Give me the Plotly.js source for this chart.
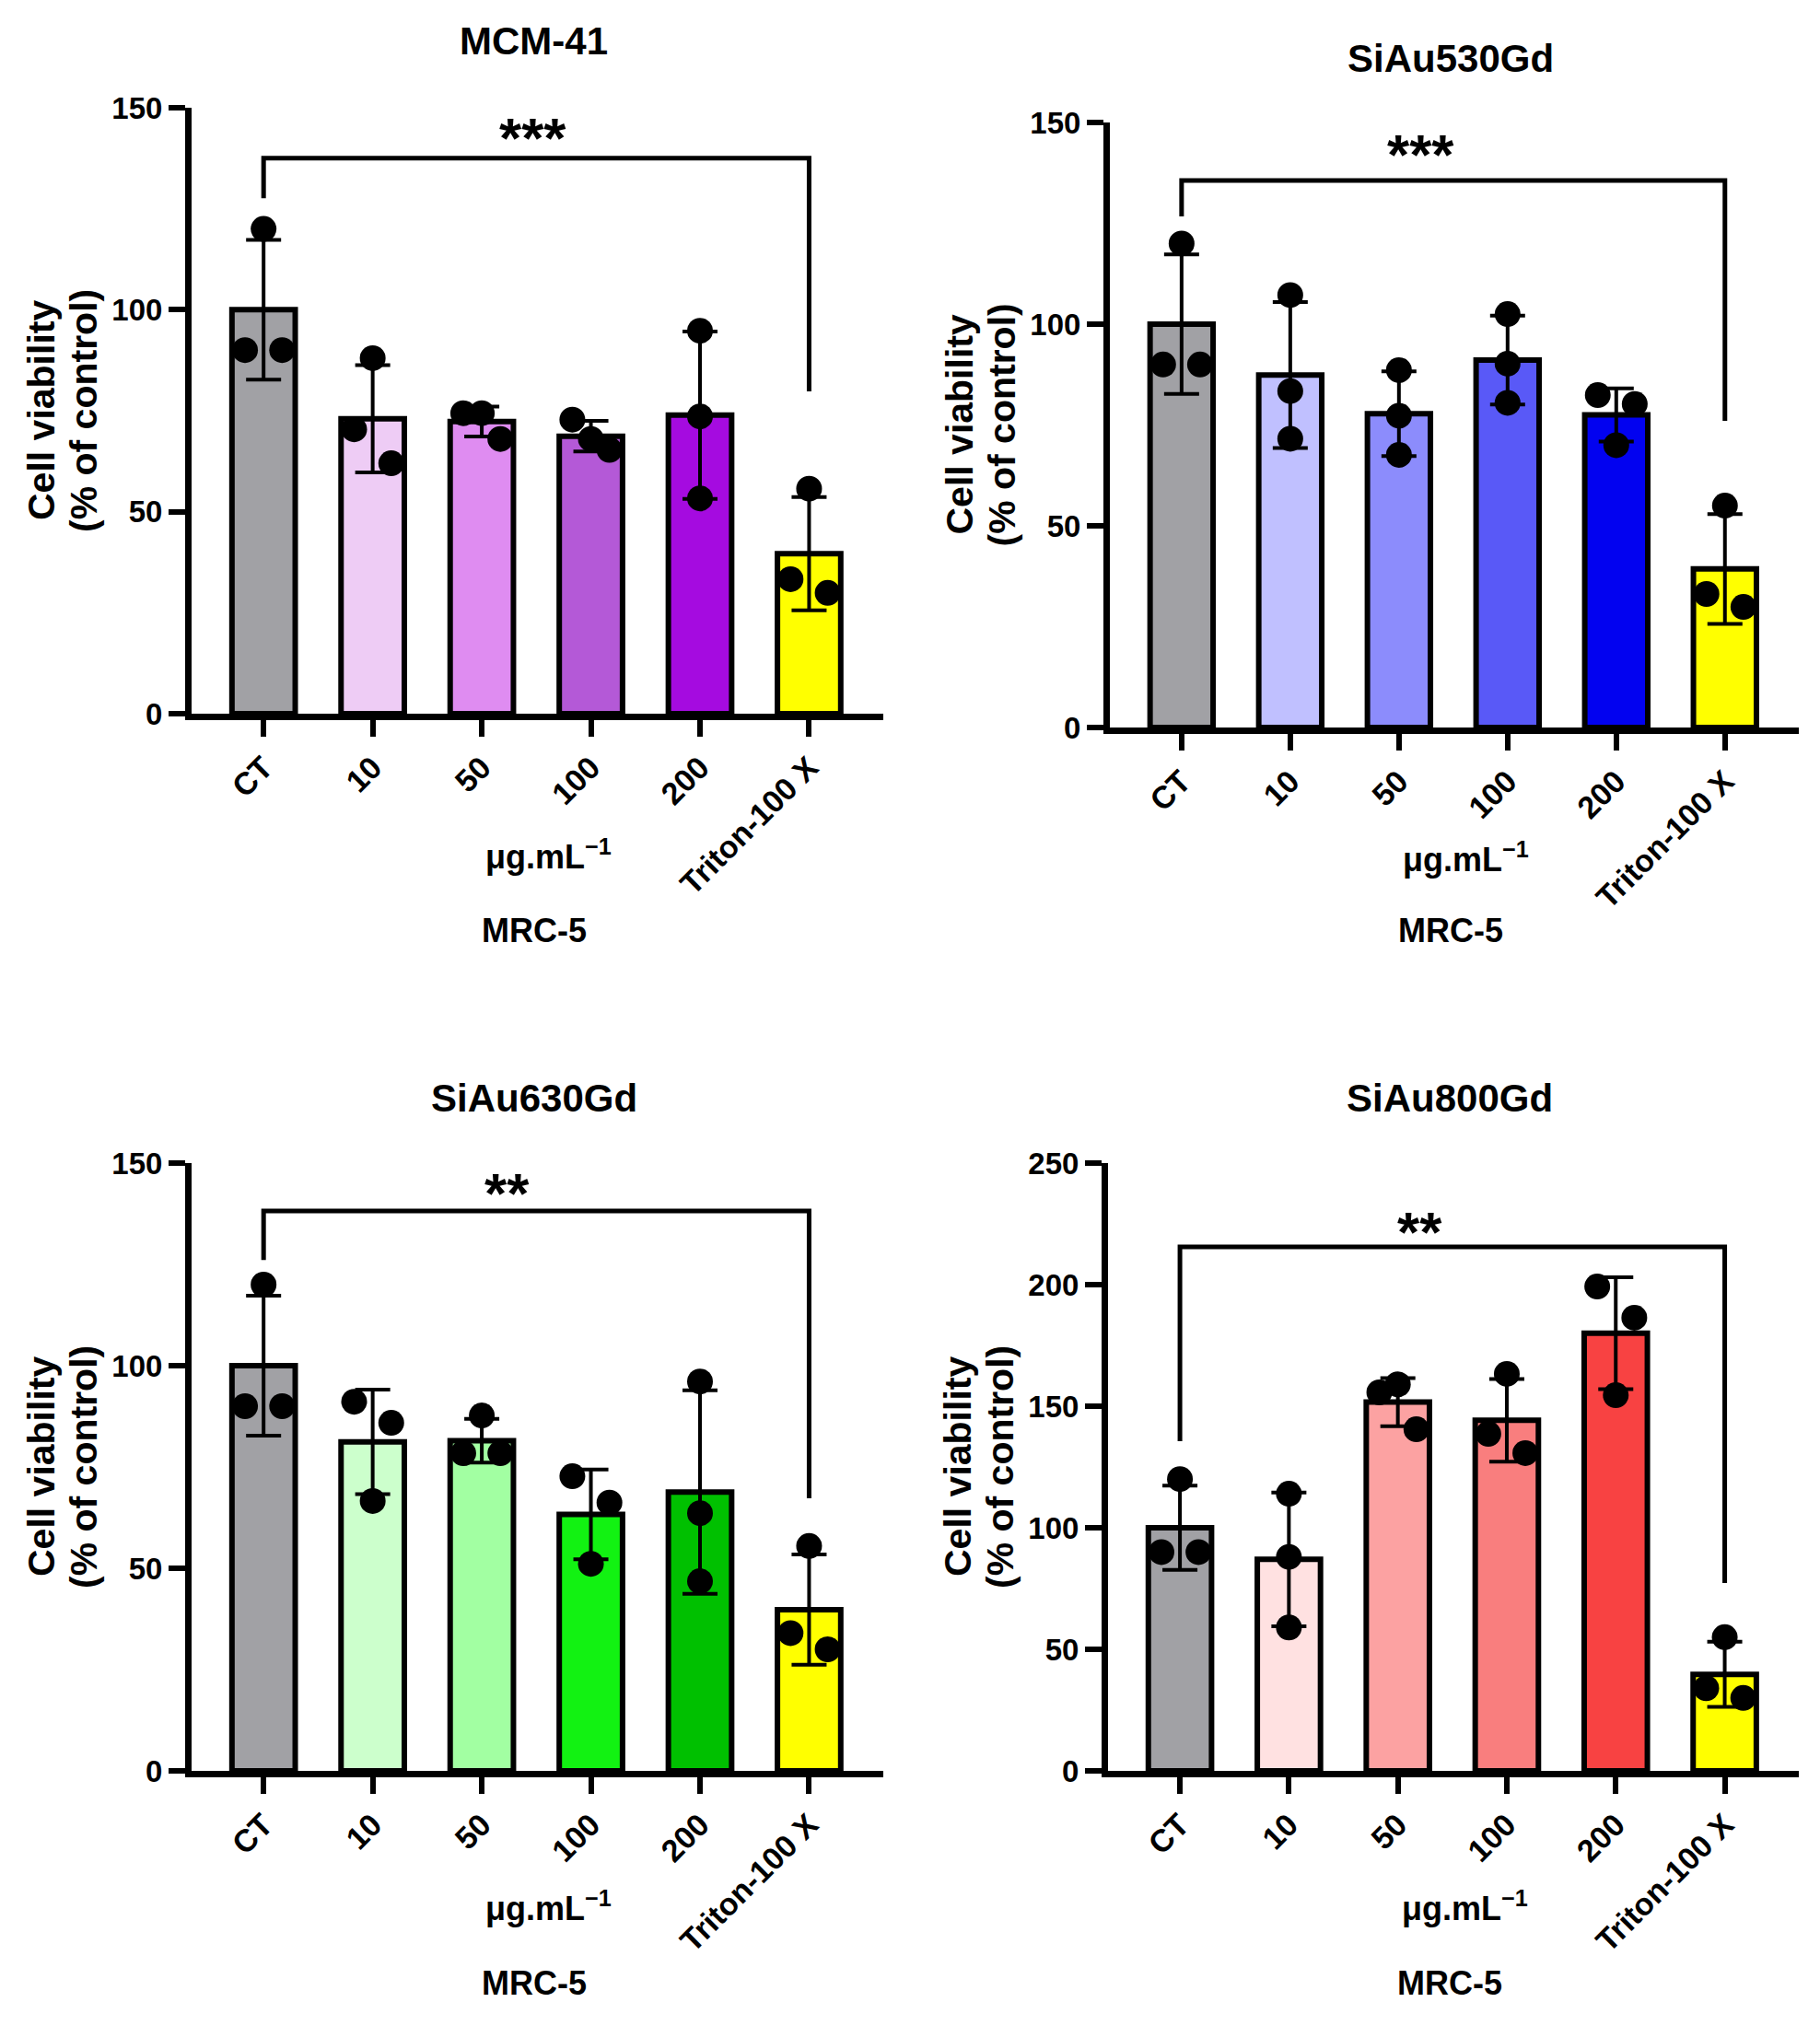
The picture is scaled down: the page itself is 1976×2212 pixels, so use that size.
<!DOCTYPE html>
<html><head><meta charset="utf-8">
<script src="https://cdn.plot.ly/plotly-3.0.1.min.js"></script>
<style>html,body{margin:0;padding:0;background:#fff}#chart{width:1976px;height:2212px}</style>
</head><body><div id="chart"></div>
<script>
// ---------- data ----------
const categories = ['CT', '10', '50', '100', '200', 'Triton-100 X'];
const panelTitles = ['MCM-41', 'SiAu530Gd', 'SiAu630Gd', 'SiAu800Gd'];
const xAxisTitle = 'μg.mL<sup>−1</sup>';
const cellLine = 'MRC-5';
const yTitleLine1 = 'Cell viability';
const yTitleLine2 = '(% of control)';
const sigLabels = ['***', '***', '**', '**'];

const mcm41Mean = [100, 73.0, 72.3, 68.7, 73.9, 39.6];
const mcm41SD = [17.3, 13.3, 3.7, 3.8, 20.7, 14.0];
const mcm41Points = [[120, 90, 90], [88, 70.4, 62], [74.4, 74.4, 68], [72.8, 68, 65.3], [94.8, 73.6, 53.3], [55.7, 33.3, 29.9]];

const siau530Mean = [100, 87.4, 77.8, 91.1, 77.5, 39.3];
const siau530SD = [17.3, 18.1, 10.5, 11.0, 6.6, 13.6];
const siau530Points = [[120, 90, 90], [107.2, 83.4, 71.6], [88.6, 77.3, 67.6], [102.5, 90.2, 80.5], [82.4, 80.2, 70], [55, 33.1, 29.9]];

const siau630Mean = [100, 81.2, 81.5, 63.3, 68.8, 39.8];
const siau630SD = [17.3, 12.9, 5.4, 11.1, 25.1, 13.6];
const siau630Points = [[120, 90, 90], [91.1, 85.9, 66.6], [87.7, 78.4, 78.4], [72.7, 66.2, 51.1], [96.1, 63.6, 46.8], [55.5, 34, 30]];

const siau800Mean = [100, 87.0, 151.7, 144.2, 180.0, 39.7];
const siau800SD = [17.3, 27.5, 9.9, 17.0, 23.0, 13.4];
const siau800Points = [[120, 90, 90], [114, 88, 59], [155.7, 159, 140.5], [163.3, 138.6, 130.7], [199.2, 186.4, 154.5], [55, 34, 30]];

// significance bracket (data units): top, CT leg end, Triton leg end, label height
const sigTop = [137.5, 135.6, 138.2, 215.5];
const sigLegCT = [127.6, 126.7, 126.1, 135.6];
const sigLegTriton = [79.8, 76.0, 67.3, 77.3];
const sigLabelY = [144.3, 143.8, 144.3, 224.6];

const yMax = [150, 150, 150, 250];
const yTicks = [[0, 50, 100, 150], [0, 50, 100, 150], [0, 50, 100, 150], [0, 50, 100, 150, 200, 250]];

// ---------- styles ----------
const barColors = [
  ['#A1A1A5', '#EECCF5', '#DF8CF1', '#B459D7', '#A50BE0', '#FFFF00'],
  ['#A1A1A5', '#C0C0FF', '#8C8CFC', '#5959F7', '#0202F0', '#FFFF00'],
  ['#A1A1A5', '#CCFFCC', '#A2FFA2', '#12F212', '#00C000', '#FFFF00'],
  ['#A1A1A5', '#FFE1E1', '#FCA2A2', '#F97E7E', '#F84242', '#FFFF00']
];
// horizontal placement of each replicate dot (-1 left, 0 centre, 1 right)
const dotSide = [
  [[0, -1, 1], [0, -1, 1], [-1, 0, 1], [-1, 0, 1], [0, 0, 0], [0, -1, 1]],
  [[0, -1, 1], [0, 0, 0], [0, 0, 0], [0, 0, 0], [-1, 1, 0], [0, -1, 1]],
  [[0, -1, 1], [-1, 1, 0], [0, -1, 1], [-1, 1, 0], [0, 0, 0], [0, -1, 1]],
  [[0, -1, 1], [0, 0, 0], [-1, 0, 1], [0, -1, 1], [-1, 1, 0], [0, -1, 1]]
];
const DOT_DX = 0.17;

const means = [mcm41Mean, siau530Mean, siau630Mean, siau800Mean];
const sds = [mcm41SD, siau530SD, siau630SD, siau800SD];
const points = [mcm41Points, siau530Points, siau630Points, siau800Points];

const W = 1976, H = 2212;
// plot boxes in pixels
const boxes = [
  {x0: 208, x1: 959, yTop: 117, yBot: 775},
  {x0: 1205, x1: 1953, yTop: 133, yBot: 790},
  {x0: 208, x1: 959, yTop: 1263, yBot: 1923},
  {x0: 1203, x1: 1953, yTop: 1263, yBot: 1923}
];
const titleY = [45, 63, 1192, 1192];
const xTitleY = [928, 931, 2070, 2070];
const cellY = [1011, 1011, 2153, 2153];
const starX = [2.47, 2.2, 2.23, 2.2];

const FONT = 'Liberation Sans, Arial, Helvetica, sans-serif';
const px = v => v / W;
const py = v => 1 - v / H;

const traces = [];
const shapes = [];
const annotations = [];
const layout = {
  width: W, height: H,
  margin: {l: 0, r: 0, t: 0, b: 0},
  paper_bgcolor: '#fff', plot_bgcolor: 'rgba(0,0,0,0)',
  showlegend: false,
  font: {family: FONT, color: '#000', weight: 'bold'},
  shapes: shapes, annotations: annotations
};

for (let p = 0; p < 4; p++) {
  const id = p === 0 ? '' : String(p + 1);
  const xa = 'x' + id, ya = 'y' + id;
  const b = boxes[p];
  const idx = categories.map((c, i) => i);

  traces.push({
    type: 'bar', x: idx, y: means[p], xaxis: xa, yaxis: ya,
    width: 0.58,
    marker: {color: barColors[p], line: {color: '#000', width: 6}},
    error_y: {type: 'data', array: sds[p], visible: true, color: '#000', thickness: 4, width: 19},
    hoverinfo: 'skip'
  });

  const dx = [], dy = [];
  points[p].forEach((arr, i) => arr.forEach((v, k) => {
    dx.push(i + dotSide[p][i][k] * DOT_DX);
    dy.push(v);
  }));
  traces.push({
    type: 'scatter', mode: 'markers', x: dx, y: dy, xaxis: xa, yaxis: ya,
    marker: {color: '#000', size: 28, line: {width: 0}},
    cliponaxis: false, hoverinfo: 'skip'
  });

  layout['xaxis' + id] = {
    domain: [px(b.x0), px(b.x1)], anchor: ya,
    range: [-0.66, 5.68],
    tickmode: 'array', tickvals: idx, ticktext: categories, tickangle: -45,
    tickfont: {family: FONT, size: 34, color: '#000', weight: 'bold'},
    showline: true, linewidth: 7, linecolor: '#000',
    ticks: 'outside', ticklen: 18, tickwidth: 6, tickcolor: '#000',
    showgrid: false, zeroline: false, fixedrange: true
  };
  layout['yaxis' + id] = {
    domain: [py(b.yBot), py(b.yTop)], anchor: xa,
    range: [0, yMax[p]],
    tickmode: 'array', tickvals: yTicks[p], ticktext: yTicks[p].map(String),
    tickfont: {family: FONT, size: 33, color: '#000', weight: 'bold'},
    showline: true, linewidth: 7, linecolor: '#000',
    ticks: 'outside', ticklen: 18, tickwidth: 6, tickcolor: '#000',
    showgrid: false, zeroline: false, fixedrange: true
  };

  shapes.push({
    type: 'path', xref: xa, yref: ya,
    path: `M 0,${sigLegCT[p]} L 0,${sigTop[p]} L 5,${sigTop[p]} L 5,${sigLegTriton[p]}`,
    line: {color: '#000', width: 5}
  });
  annotations.push({
    xref: xa, yref: ya, x: starX[p], y: sigLabelY[p], text: sigLabels[p],
    showarrow: false, xanchor: 'center', yanchor: 'middle', yshift: -7,
    font: {family: FONT, size: 62, color: '#000', weight: 'bold'}
  });

  const cx = (b.x0 + b.x1) / 2;
  annotations.push({
    xref: 'paper', yref: 'paper', x: px(cx - 4), y: py(titleY[p]), text: panelTitles[p],
    showarrow: false, xanchor: 'center', yanchor: 'middle',
    font: {family: FONT, size: 42, color: '#000', weight: 'bold'}
  });
  const yc = (b.yTop + b.yBot) / 2;
  annotations.push({
    xref: 'paper', yref: 'paper', x: px(b.x0 - 163), y: py(yc), text: yTitleLine1, textangle: -90,
    showarrow: false, xanchor: 'center', yanchor: 'middle',
    font: {family: FONT, size: 41, color: '#000', weight: 'bold'}
  });
  annotations.push({
    xref: 'paper', yref: 'paper', x: px(b.x0 - 117), y: py(yc), text: yTitleLine2, textangle: -90,
    showarrow: false, xanchor: 'center', yanchor: 'middle',
    font: {family: FONT, size: 41, color: '#000', weight: 'bold'}
  });
  annotations.push({
    xref: 'paper', yref: 'paper', x: px(cx + 12), y: py(xTitleY[p]), text: xAxisTitle,
    showarrow: false, xanchor: 'center', yanchor: 'middle',
    font: {family: FONT, size: 36, color: '#000', weight: 'bold'}
  });
  annotations.push({
    xref: 'paper', yref: 'paper', x: px(cx - 4), y: py(cellY[p]), text: cellLine,
    showarrow: false, xanchor: 'center', yanchor: 'middle',
    font: {family: FONT, size: 36, color: '#000', weight: 'bold'}
  });
}

Plotly.newPlot('chart', traces, layout, {staticPlot: true, displayModeBar: false});
</script>
</body></html>
